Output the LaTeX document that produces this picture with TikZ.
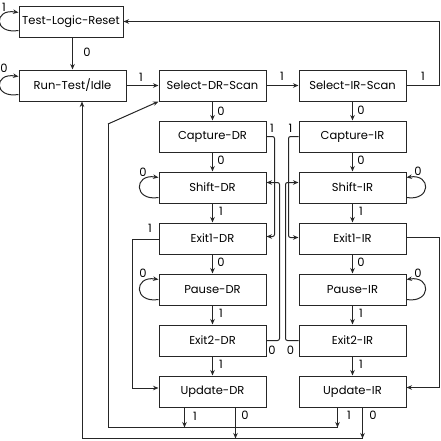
\documentclass[tikz,border=0pt]{standalone}
\usepackage{fontspec}
\setmainfont{Poppins}
\usetikzlibrary{arrows.meta,calc}
\begin{document}
\begin{tikzpicture}[x=1pt,y=-1pt,
  stbox/.style={draw=black!85, line width=1pt, minimum width=107pt, minimum height=31pt, inner sep=0pt, font=\fontsize{11.5}{14}\selectfont},
  lbl/.style={inner sep=0pt, font=\fontsize{11.5}{14}\selectfont},
  conn/.style={draw=black!85, line width=1pt},
  arr/.style={conn, -{Stealth[length=5.5pt,width=4.5pt]}}]
\useasboundingbox (0,0) rectangle (441,440);

% states
\node[stbox, minimum width=104pt] (tlr) at (71,21.5) {Test-Logic-Reset};
\node[stbox] (rti) at (72.5,85.5) {Run-Test/Idle};
\node[stbox] (sdr) at (212.5,85.5) {Select-DR-Scan};
\node[stbox] (sir) at (352.5,85.5) {Select-IR-Scan};
\node[stbox] (cdr) at (212.5,136.5) {Capture-DR};
\node[stbox] (cir) at (352.5,136.5) {Capture-IR};
\node[stbox] (shdr) at (212.5,187.5) {Shift-DR};
\node[stbox] (shir) at (352.5,187.5) {Shift-IR};
\node[stbox] (edr) at (212.5,238.5) {Exit1-DR};
\node[stbox] (eir) at (352.5,238.5) {Exit1-IR};
\node[stbox] (pdr) at (212.5,289.5) {Pause-DR};
\node[stbox] (pir) at (352.5,289.5) {Pause-IR};
\node[stbox] (fdr) at (212.5,340.5) {Exit2-DR};
\node[stbox] (fir) at (352.5,340.5) {Exit2-IR};
\node[stbox] (udr) at (212.5,391.5) {Update-DR};
\node[stbox] (uir) at (352.5,391.5) {Update-IR};

% self loops
\draw[arr] ($(tlr.south west)+(0,-7)$) .. controls +(-25,4) and +(-25,-4) .. ($(tlr.north west)+(0,7)$);
\draw[arr] ($(rti.south west)+(0,-7)$) .. controls +(-25,4) and +(-25,-4) .. ($(rti.north west)+(0,7)$);
\draw[arr] ($(shdr.south west)+(0,-6)$) .. controls +(-25,4) and +(-25,-4) .. ($(shdr.north west)+(0,6)$);
\draw[arr] ($(pdr.south west)+(0,-6)$) .. controls +(-25,4) and +(-25,-4) .. ($(pdr.north west)+(0,6)$);
\draw[arr] ($(shir.south east)+(0,-6)$) .. controls +(25,4) and +(25,-4) .. ($(shir.north east)+(0,6)$);
\draw[arr] ($(pir.south east)+(0,-6)$) .. controls +(25,4) and +(25,-4) .. ($(pir.north east)+(0,6)$);

% straight transitions
\draw[arr] (tlr.south -| rti.north) -- (rti.north);
\draw[arr] (rti) -- (sdr);
\draw[arr] (sdr) -- (sir);
\foreach \a/\b in {sdr/cdr,cdr/shdr,shdr/edr,edr/pdr,pdr/fdr,fdr/udr,
                   sir/cir,cir/shir,shir/eir,eir/pir,pir/fir,fir/uir}
  \draw[arr] (\a) -- (\b);

% Select-IR-Scan back to Test-Logic-Reset
\coordinate (rtop) at (439,21.5);
\draw[arr] (sir.east) -| (rtop) -- (tlr.east);

% skips inside the columns
\draw[arr, rounded corners=2pt] (cdr.east) -- ++(8,0) |- ($(edr.east)+(0,-2)$);
\draw[arr, rounded corners=2pt] (fdr.east) -- ++(13,0) |- ($(shdr.east)+(0,-5)$);
\draw[arr, rounded corners=2pt] (cir.west) -- ++(-10,0) |- ($(eir.west)+(0,-1)$);
\draw[arr, rounded corners=2pt] (fir.west) -- ++(-13,0) |- ($(shir.west)+(0,-5)$);

% Exit1 to Update
\draw[arr] ($(edr.west)+(0,1)$) -- ++(-26,0) |- ($(udr.west)+(0,-3.5)$);
\draw[arr] ($(eir.east)+(0,-1)$) -- ++(33,0) |- ($(uir.east)+(0,-4)$);

% Update exits and return buses
\coordinate (ba) at (108,427);
\coordinate (bb) at (108,124);
\coordinate (bc) at (82,438);
\draw[arr] ($(udr.south west)+(26,0)$) -- ++(0,20);
\draw[arr] ($(udr.south west)+(77,0)$) -- ++(0,31);
\draw[arr] ($(uir.south west)+(39,0)$) -- ++(0,20);
\draw[arr] ($(uir.south west)+(64,0)$) -- ++(0,31);
\draw[conn] (338,427) -- (ba) -- (bb);
\draw[arr] (bb) -- (sdr.south west);
\draw[arr] (363,438) -- (bc) -- (bc |- rti.south);

% labels
\node[lbl] (l1) at (4,7) {1};
\node[lbl] (l2) at (87,52) {0};
\node[lbl] (l3) at (4,68) {0};
\node[lbl] (l4) at (141,77) {1};
\node[lbl] (l5) at (282,76) {1};
\node[lbl] (l6) at (423,76) {1};
\node[lbl] (l7) at (221,111) {0};
\node[lbl] (l8) at (361,110) {0};
\node[lbl] (l9) at (221,160) {0};
\node[lbl] (l10) at (361,160) {0};
\node[lbl] (l11) at (143,172) {0};
\node[lbl] (l12) at (418,171) {0};
\node[lbl] (l13) at (221,211) {1};
\node[lbl] (l14) at (361,211) {1};
\node[lbl] (l15) at (272,128) {1};
\node[lbl] (l16) at (290.5,128) {1};
\node[lbl] (l17) at (150,228) {1};
\node[lbl] (l18) at (221,262) {0};
\node[lbl] (l19) at (361,262) {0};
\node[lbl] (l20) at (143,273) {0};
\node[lbl] (l21) at (418,273) {0};
\node[lbl] (l22) at (221,313) {1};
\node[lbl] (l23) at (361,313) {1};
\node[lbl] (l24) at (272,350) {0};
\node[lbl] (l25) at (290.5,350) {0};
\node[lbl] (l26) at (221,364) {1};
\node[lbl] (l27) at (361,364) {1};
\node[lbl] (l28) at (195,416) {1};
\node[lbl] (l29) at (245,415) {0};
\node[lbl] (l30) at (349,415) {1};
\node[lbl] (l31) at (373,415) {0};
\end{tikzpicture}
\end{document}
